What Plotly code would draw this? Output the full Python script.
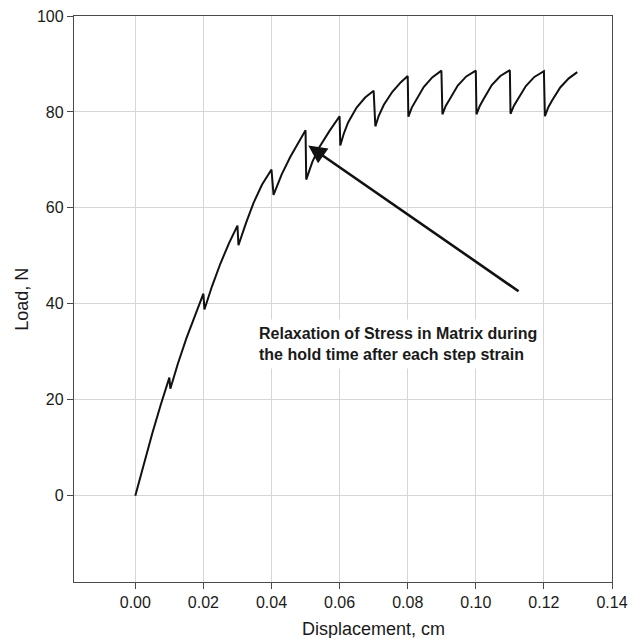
import plotly.graph_objects as go

# Displacement (cm) and load (N) for each step-strain / hold segment.
# Each segment starts at the relaxed load after the hold and ends at the
# peak load reached just before the next hold.
disp_steps = [
    [0.0000, 0.0025, 0.0050, 0.0075, 0.0100],
    [0.0103, 0.0125, 0.0150, 0.0175, 0.0200],
    [0.0203, 0.0225, 0.0250, 0.0275, 0.0300],
    [0.0303, 0.0325, 0.0347, 0.0372, 0.0400],
    [0.0406, 0.0430, 0.0455, 0.0480, 0.0500],
    [0.0502, 0.0520, 0.0540, 0.0570, 0.0600],
    [0.0602, 0.0612, 0.0625, 0.0650, 0.0675, 0.0700],
    [0.0705, 0.0715, 0.0730, 0.0755, 0.0780, 0.0800],
    [0.0802, 0.0812, 0.0823, 0.0847, 0.0872, 0.0899],
    [0.0902, 0.0912, 0.0923, 0.0947, 0.0972, 0.1000],
    [0.1002, 0.1012, 0.1023, 0.1047, 0.1072, 0.1100],
    [0.1102, 0.1112, 0.1123, 0.1147, 0.1172, 0.1200],
    [0.1203, 0.1213, 0.1224, 0.1248, 0.1273, 0.1298],
]
load_steps = [
    [0.0, 6.7, 13.0, 19.0, 24.6],
    [22.3, 27.5, 32.8, 37.6, 42.1],
    [38.8, 43.6, 48.4, 52.6, 56.3],
    [52.2, 56.8, 61.0, 64.8, 68.0],
    [62.7, 67.0, 70.6, 73.7, 76.2],
    [65.9, 69.6, 72.6, 76.0, 79.1],
    [73.0, 75.4, 77.8, 80.9, 83.0, 84.4],
    [77.0, 79.2, 81.5, 84.2, 86.2, 87.5],
    [79.0, 80.9, 82.2, 85.2, 87.2, 88.6],
    [79.5, 81.3, 82.6, 85.5, 87.4, 88.6],
    [79.5, 81.3, 82.7, 85.6, 87.5, 88.7],
    [79.6, 81.3, 82.6, 85.4, 87.3, 88.5],
    [79.1, 81.0, 82.4, 85.1, 87.0, 88.3],
]

x_ticks = [0.00, 0.02, 0.04, 0.06, 0.08, 0.10, 0.12, 0.14]
y_ticks = [0, 20, 40, 60, 80, 100]

note_text = ("<b>Relaxation of Stress in Matrix during<br>"
             "the hold time after each step strain</b>")
arrow_head = (0.0508, 73.0)
arrow_tail = (0.1130, 42.4)

disp = [d for seg in disp_steps for d in seg]
load = [v for seg in load_steps for v in seg]

FONT = "Liberation Sans, Arial, Helvetica, sans-serif"
TXT = "#1a1a1a"

fig = go.Figure()
fig.add_trace(go.Scatter(
    x=disp, y=load, mode="lines",
    line=dict(color="#111111", width=2),
    hoverinfo="skip", showlegend=False,
))

axis_common = dict(
    showgrid=True, gridcolor="#d6d6d6", gridwidth=1,
    zeroline=False, showline=True, linecolor="#4a4a4a", linewidth=1.3,
    mirror=True, ticks="outside", ticklen=6, tickcolor="#4a4a4a",
    tickfont=dict(family=FONT, size=16, color=TXT),
    automargin=False,
)

fig.update_layout(
    width=630, height=638,
    margin=dict(l=74, r=18, t=16, b=56),
    paper_bgcolor="white", plot_bgcolor="white",
    font=dict(family=FONT, color=TXT),
    xaxis=dict(range=[-0.018, 0.14], tickvals=x_ticks,
               ticktext=[f"{v:.2f}" for v in x_ticks], **axis_common),
    yaxis=dict(range=[-18, 100], tickvals=y_ticks,
               ticktext=[str(v) for v in y_ticks], **axis_common),
    annotations=[
        dict(x=0.07, xref="x", y=-0.083, yref="paper",
             text="Displacement, cm", showarrow=False,
             xanchor="center", yanchor="middle",
             font=dict(family=FONT, size=18, color=TXT)),
        dict(x=-0.097, xref="paper", y=0.5, yref="paper",
             text="Load, N", showarrow=False, textangle=-90,
             xanchor="center", yanchor="middle",
             font=dict(family=FONT, size=18, color=TXT)),
        dict(x=0.0346, xref="x", y=31.7, yref="y",
             text=note_text, showarrow=False, align="left",
             xanchor="left", yanchor="middle",
             bgcolor="white", borderpad=5,
             font=dict(family=FONT, size=16, color=TXT)),
        dict(x=arrow_head[0], y=arrow_head[1], xref="x", yref="y",
             ax=arrow_tail[0], ay=arrow_tail[1], axref="x", ayref="y",
             text="", showarrow=True, arrowhead=2, arrowsize=1.4,
             arrowwidth=2.6, arrowcolor="#111111", standoff=0),
    ],
)

fig.write_html("out.html")
